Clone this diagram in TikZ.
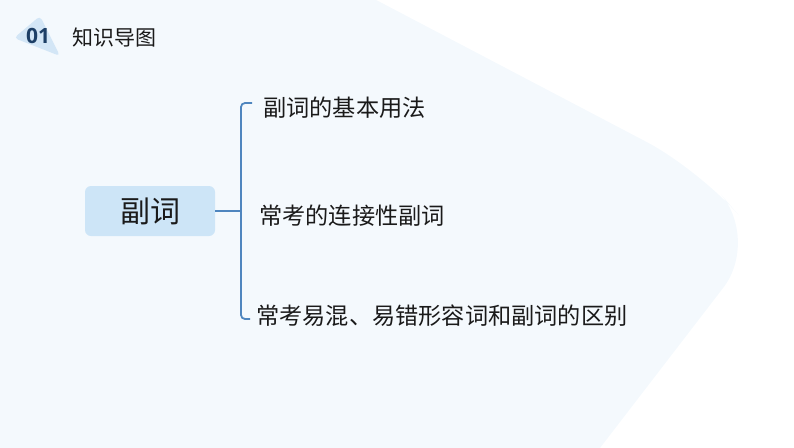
\documentclass[tikz,border=0pt]{standalone}
\usepackage{fontspec}
\newfontfamily\cjk{Noto Sans CJK SC}
\newfontfamily\numfont{Open Sans}
\usetikzlibrary{positioning}
\definecolor{branchblue}{HTML}{4F86BF}
\definecolor{boxblue}{HTML}{CDE5F7}
\definecolor{navy}{HTML}{1D3F66}
\definecolor{tagblue}{HTML}{D3E6F6}
\definecolor{inkgray}{HTML}{1A1A1A}
\definecolor{haze}{HTML}{F4F9FD}

\tikzset{
    mainbox/.style={fill=boxblue, rounded corners=6pt, minimum width=130pt, minimum height=50pt,
                    font=\cjk\fontsize{30}{32}\selectfont, text=inkgray},
    item/.style={anchor=west, inner sep=0pt, font=\cjk\fontsize{23.2}{25}\selectfont, text=inkgray},
    branch/.style={draw=branchblue, line width=1.8pt, rounded corners=4pt},
}

\begin{document}
\begin{tikzpicture}[x=1pt, y=-1pt]
            \useasboundingbox (0,0) rectangle (794,447);
            \fill[haze, rounded corners=60pt] (-80,-40) -- (300,-40) -- (700,170) -- (760,240) -- (560,500) -- (-80,500) -- cycle;
            \fill[tagblue, rounded corners=4pt] (14,38) -- (40,16) -- (60,56) -- cycle;
            \node[font=\numfont\bfseries\fontsize{21}{22}\selectfont, text=navy] (num) at (38,36) {01};
            \node[font=\cjk\fontsize{21}{22}\selectfont, text=inkgray, anchor=west] (title) at (69,38) {知识导图};

            \node[mainbox] (fuci) at (150,211) {副词};
            \node[item] (yongfa) at (263,108) {副词的基本用法};
            \node[item] (lianjie) at (259,216) {常考的连接性副词};
            \node[item] (qubie) at (256,316) {常考易混、易错形容词和副词的区别};

            \coordinate (brtop) at (241,103);
            \coordinate (brbot) at (241,319);
            \draw[branch] (252,103) -- (brtop) -- (brbot) -- (250,319);
            \draw[branch] (fuci.east) -- (brtop |- fuci.east);
        \end{tikzpicture}
\end{document}
